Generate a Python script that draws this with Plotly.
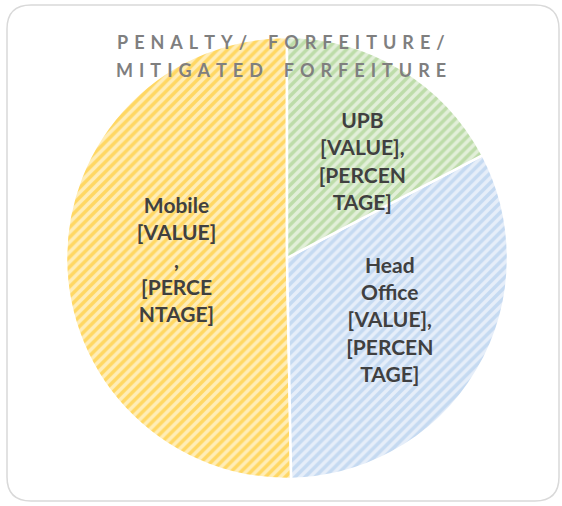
import plotly.graph_objects as go

# slice data; drawn Mobile -> Head Office -> UPB
labels = ["Mobile", "Head Office", "UPB"]
values = [50.3, 32.4, 17.3]
label_text = [
    "<b>Mobile<br>[VALUE]<br>,<br>[PERCE<br>NTAGE]</b>",
    "<b>Head<br>Office<br>[VALUE],<br>[PERCEN<br>TAGE]</b>",
    "<b> <br> <br>UPB<br>[VALUE],<br>[PERCEN<br>TAGE]</b>",
]
bg_colors = ["#FFEDB8", "#E6EEF9", "#E2EFD9"]
fg_colors = ["#FFC20E", "#A4C5EA", "#98CA7A"]

title_lines = ["PENALTY/ FORFEITURE/", "MITIGATED FORFEITURE"]

W, H = 562, 506
ml, mr, mt, mb = 66, 54, 37, 27


def spaced(s):
    # fake letter spacing
    gap = "\u2004"
    return gap.join("\u2002" if c == " " else c for c in s)


# counterclockwise so the UPB label is drawn last (on top);
# rotate so Mobile ends at 12 o'clock and UPB starts there going clockwise
rot = 360 * (1 - values[0] / sum(values))

fig = go.Figure(go.Pie(
    labels=labels,
    values=values,
    text=label_text,
    textinfo="text",
    textposition="inside",
    insidetextorientation="horizontal",
    sort=False,
    direction="counterclockwise",
    rotation=rot,
    hole=0,
    showlegend=False,
    marker=dict(
        colors=bg_colors,
        line=dict(color="white", width=2.5),
        pattern=dict(shape="/", fgcolor=fg_colors, size=7, solidity=0.5, fillmode="overlay"),
    ),
    textfont=dict(family="Lato, Open Sans, sans-serif", size=21, color="#404040"),
))

# rounded chart border, pixel -> paper coords
pw, ph = W - ml - mr, H - mt - mb


def px(x):
    return (x - ml) / pw


def py(y):
    return 1 - (y - mt) / ph


x0, x1, y0, y1, r = 7, 559, 5, 501, 24
path = (f"M {px(x0 + r)},{py(y0)} L {px(x1 - r)},{py(y0)} "
        f"Q {px(x1)},{py(y0)} {px(x1)},{py(y0 + r)} L {px(x1)},{py(y1 - r)} "
        f"Q {px(x1)},{py(y1)} {px(x1 - r)},{py(y1)} L {px(x0 + r)},{py(y1)} "
        f"Q {px(x0)},{py(y1)} {px(x0)},{py(y1 - r)} L {px(x0)},{py(y0 + r)} "
        f"Q {px(x0)},{py(y0)} {px(x0 + r)},{py(y0)} Z")

title_font = dict(family="Lato, Open Sans, sans-serif", size=18, color="#7F7F7F")
annotations = [
    dict(text="<b>" + spaced(line) + "</b>", x=px(281), y=py(yc), xref="paper", yref="paper",
         xanchor="center", yanchor="middle", showarrow=False, font=title_font)
    for line, yc in zip(title_lines, [42, 70])
]

fig.update_layout(
    width=W,
    height=H,
    margin=dict(l=ml, r=mr, t=mt, b=mb),
    paper_bgcolor="white",
    uniformtext=dict(minsize=21, mode="show"),
    shapes=[dict(type="path", path=path, xref="paper", yref="paper",
                 line=dict(color="#D9D9D9", width=1.5), layer="below")],
    annotations=annotations,
)

fig.write_html("out.html", config={"displayModeBar": False},
               post_script="document.body.style.margin='0px';")
